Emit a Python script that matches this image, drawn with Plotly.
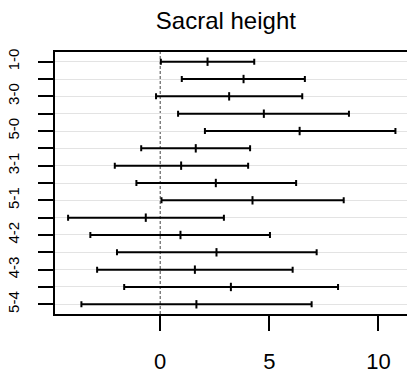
import plotly.graph_objects as go

labels = ["1-0", "2-0", "3-0", "4-0", "5-0", "2-1", "3-1", "4-1", "5-1",
          "3-2", "4-2", "5-2", "4-3", "5-3", "5-4"]
lower = [0.03, 0.99, -0.19, 0.82, 2.05, -0.87, -2.08, -1.09, 0.06,
         -4.22, -3.20, -1.98, -2.89, -1.65, -3.61]
mid = [2.17, 3.82, 3.16, 4.75, 6.39, 1.63, 0.96, 2.55, 4.23,
       -0.66, 0.93, 2.58, 1.59, 3.24, 1.66]
upper = [4.31, 6.63, 6.51, 8.65, 10.78, 4.12, 4.03, 6.23, 8.41,
         2.92, 5.03, 7.17, 6.07, 8.15, 6.94]
x_ticks = [0, 5, 10]

rows = list(range(1, len(labels) + 1))
shown = [lab if i % 2 == 0 else "" for i, lab in enumerate(labels)]

fig = go.Figure()
fig.add_trace(go.Scatter(
    x=mid, y=rows, mode="markers",
    marker=dict(symbol="line-ns", size=6, color="black",
                line=dict(color="black", width=2)),
    error_x=dict(type="data", symmetric=False,
                 array=[u - m for u, m in zip(upper, mid)],
                 arrayminus=[m - l for m, l in zip(mid, lower)],
                 color="black", thickness=2, width=3),
    hoverinfo="skip", showlegend=False,
))

fig.add_shape(type="line", xref="x", yref="paper", x0=0, x1=0, y0=0, y1=1,
              line=dict(color="#444", width=1, dash="3px,2px"), layer="below")

fig.update_layout(
    width=407, height=374,
    margin=dict(l=55, r=0, t=52, b=58),
    paper_bgcolor="white", plot_bgcolor="white",
    font=dict(family="Liberation Sans, Arial, sans-serif", color="black"),
    title=dict(text="Sacral height", x=0.555, xanchor="center",
               y=0.945, yanchor="middle", font=dict(size=24, color="black")),
    xaxis=dict(range=[-4.82, 11.31], tickvals=x_ticks, ticks="outside",
               ticklen=15, tickwidth=1.5, tickcolor="black",
               showline=True, linecolor="black", linewidth=1.5, mirror=True,
               showgrid=False, zeroline=False, tickfont=dict(size=22),
               ticklabelstandoff=12),
    yaxis=dict(range=[15.56, 0.44], tickvals=rows, ticktext=shown,
               ticks="outside", ticklen=15, tickwidth=1.5, tickcolor="black",
               showline=True, linecolor="black", linewidth=1.5, mirror=False,
               showgrid=True, gridcolor="#e3e3e3", gridwidth=1,
               zeroline=False, tickangle=-90, tickfont=dict(size=15),
               ticklabelstandoff=13),
)

fig.write_html("out.html")
